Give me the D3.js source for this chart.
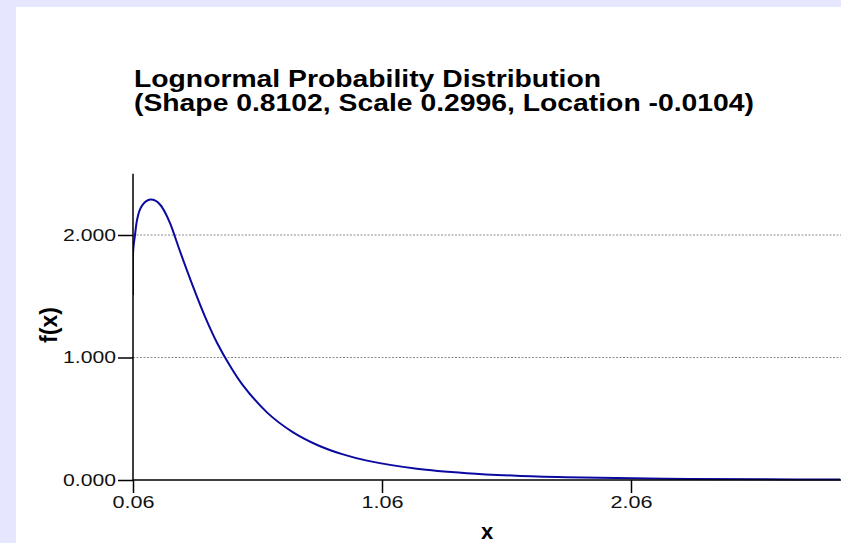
<!DOCTYPE html>
<html>
<head>
<meta charset="utf-8">
<script src="https://cdn.jsdelivr.net/npm/d3@7"></script>
<style>
  html, body { margin: 0; padding: 0; background: #fff; }
  svg { display: block; }
  text { font-family: "Liberation Sans", Arial, Helvetica, sans-serif; }
</style>
</head>
<body>
<svg id="chart" width="841" height="543"></svg>
<script>
// ---- data ----
const titleLines = [
  "Lognormal Probability Distribution",
  "(Shape 0.8102, Scale 0.2996, Location -0.0104)"
];
const xValues = [0.06, 0.061, 0.068, 0.076, 0.088, 0.10, 0.112, 0.13, 0.15, 0.17, 0.19, 0.21, 0.25, 0.30, 0.35,
                 0.40, 0.45, 0.50, 0.60, 0.70, 0.80, 0.90, 1.00, 1.20, 1.40, 1.60, 1.80, 2.00,
                 2.30, 2.60, 2.90];
const fValues = [1.51, 1.88, 2.00, 2.12, 2.21, 2.25, 2.275, 2.29, 2.28, 2.245, 2.18, 2.09, 1.86, 1.585, 1.33,
                 1.11, 0.93, 0.777, 0.548, 0.393, 0.286, 0.211, 0.158, 0.092, 0.056, 0.035, 0.023, 0.0155,
                 0.0089, 0.0053, 0.0033];
const xTicks = [0.06, 1.06, 2.06];
const yTicks = [0, 1, 2];
const xLabel = "x";
const yLabel = "f(x)";

// ---- drawing ----
const svg = d3.select("#chart");
const W = 841, H = 543;

svg.append("rect").attr("width", W).attr("height", H).attr("fill", "#e6e6ff");
svg.append("rect").attr("x", 16).attr("y", 7).attr("width", W - 16).attr("height", H - 7).attr("fill", "#fff");

const x = d3.scaleLinear().domain([0.06, 2.06]).range([133, 631]);
const y = d3.scaleLinear().domain([0, 2.5]).range([480, 173.75]);

// title
const titleWidths = [467, 620];
titleLines.forEach((t, i) => {
  svg.append("text")
    .attr("x", 134).attr("y", 87 + i * 24)
    .attr("font-size", 23).attr("font-weight", "bold")
    .attr("textLength", titleWidths[i]).attr("lengthAdjust", "spacingAndGlyphs")
    .attr("fill", "#000")
    .text(t);
});

// grid lines
svg.append("g").selectAll("line")
  .data(yTicks.filter(d => d > 0))
  .join("line")
  .attr("x1", 133).attr("x2", W)
  .attr("y1", d => y(d)).attr("y2", d => y(d))
  .attr("stroke", "#8c8c8c").attr("stroke-width", 1)
  .attr("stroke-dasharray", "2,1.5");

// clip for data line
svg.append("clipPath").attr("id", "clip")
  .append("rect").attr("x", 133).attr("y", 0).attr("width", W - 133).attr("height", 481);

// curve
const pts = xValues.map((v, i) => [v, fValues[i]]);
svg.append("path")
  .datum(pts)
  .attr("clip-path", "url(#clip)")
  .attr("fill", "none")
  .attr("stroke", "#0a0aa0")
  .attr("stroke-width", 2)
  .attr("d", d3.line().x(d => x(d[0])).y(d => y(d[1])).curve(d3.curveCatmullRom.alpha(0.5)));

// x axis
const xAxis = svg.append("g")
  .attr("transform", "translate(0,480)")
  .call(d3.axisBottom(x).tickValues(xTicks).tickFormat(d3.format(".2f")).tickSize(13).tickPadding(4).tickSizeOuter(0));
xAxis.select(".domain").attr("d", `M133,0H${W}`).attr("stroke-width", 1.5);
xAxis.selectAll(".tick line").attr("stroke-width", 1.5);
xAxis.selectAll(".tick text")
  .attr("font-size", 16).attr("fill", "#111")
  .attr("textLength", 42).attr("lengthAdjust", "spacingAndGlyphs")
  .attr("font-family", "Liberation Sans, Arial, sans-serif");

// y axis
const yAxis = svg.append("g")
  .attr("transform", "translate(133,0)")
  .call(d3.axisLeft(y).tickValues(yTicks).tickFormat(d3.format(".3f")).tickSize(15).tickPadding(2).tickSizeOuter(0));
yAxis.select(".domain").attr("d", `M0,${y(2.5)}V480`).attr("stroke-width", 1.5);
yAxis.selectAll(".tick line").attr("stroke-width", 1.5);
yAxis.selectAll(".tick text")
  .attr("font-size", 16).attr("fill", "#111")
  .attr("textLength", 53).attr("lengthAdjust", "spacingAndGlyphs")
  .attr("font-family", "Liberation Sans, Arial, sans-serif");

// axis labels
svg.append("text")
  .attr("x", 487).attr("y", 539)
  .attr("text-anchor", "middle")
  .attr("font-size", 22).attr("font-weight", "bold")
  .text(xLabel);

svg.append("text")
  .attr("transform", "translate(57,325) rotate(-90)")
  .attr("text-anchor", "middle")
  .attr("font-size", 23).attr("font-weight", "bold")
  .text(yLabel);
</script>
</body>
</html>
